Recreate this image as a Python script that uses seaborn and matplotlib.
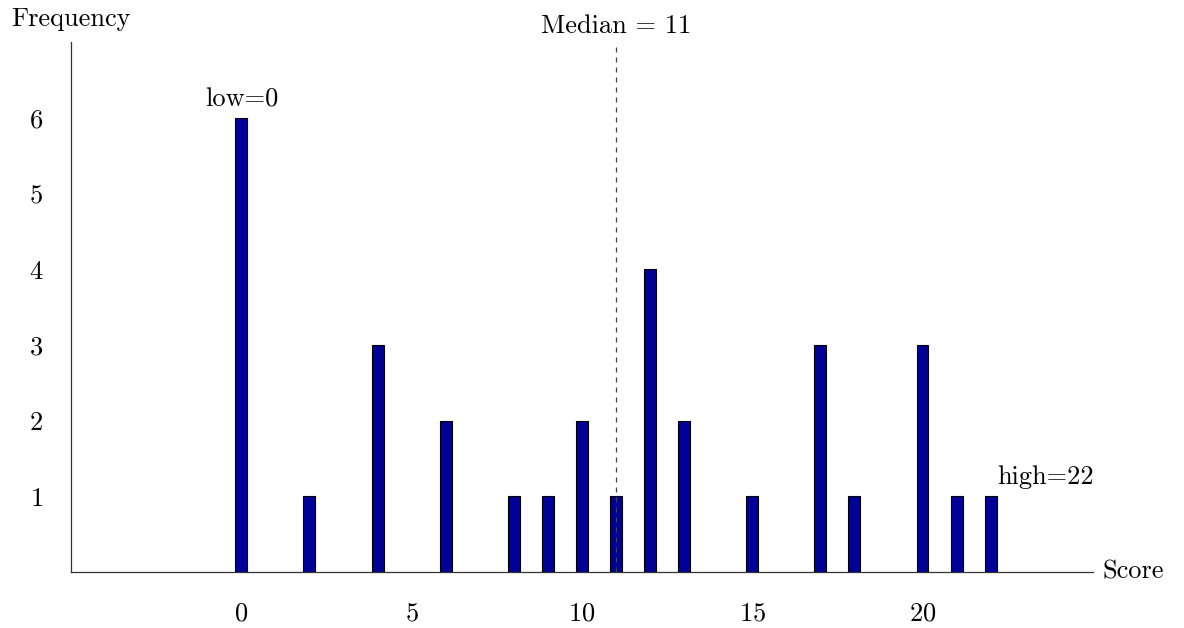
import matplotlib
matplotlib.use("Agg")
import matplotlib.pyplot as plt
import seaborn as sns
import pandas as pd

# score distribution
scores = [0, 2, 4, 6, 8, 9, 10, 11, 12, 13, 15, 17, 18, 20, 21, 22]
freqs = [6, 1, 3, 2, 1, 1, 2, 1, 4, 2, 1, 3, 1, 3, 1, 1]
x_ticks = [0, 5, 10, 15, 20]
y_ticks = [1, 2, 3, 4, 5, 6]
median_score = 11

sns.set_theme(style="white")
plt.rcParams['font.family'] = ['cmr10', 'DejaVu Serif']
plt.rcParams['axes.formatter.use_mathtext'] = True
plt.rcParams['text.color'] = 'black'
plt.rcParams['xtick.color'] = 'black'
plt.rcParams['ytick.color'] = 'black'

FS = 19

df = pd.DataFrame({'Score': scores, 'Frequency': freqs})

fig = plt.figure(figsize=(11.84, 6.28), dpi=100)
ax = fig.add_axes([0.06, 0.089, 0.863, 0.844])

sns.barplot(data=df, x='Score', y='Frequency', native_scale=True, width=0.35,
            color='#000099', saturation=1, edgecolor='black', linewidth=0.8, ax=ax)

ax.set_xlim(-5, 25)
ax.set_ylim(0, 7)
ax.set_xticks(x_ticks)
ax.set_yticks(y_ticks)
ax.tick_params(axis='both', length=0, labelsize=FS, labelcolor='black')
ax.tick_params(axis='x', pad=21)
ax.tick_params(axis='y', pad=20)

sns.despine(ax=ax)
for s in ['left', 'bottom']:
    ax.spines[s].set_color('#333333')
    ax.spines[s].set_linewidth(0.9)

ax.set_xlabel('')
ax.set_ylabel('')
ax.text(25.28, 0, 'Score', fontsize=FS, ha='left', va='center')
ax.text(-5, 7.14, 'Frequency', fontsize=FS, ha='center', va='bottom')

# median line
ax.plot([median_score, median_score], [0, 6.97], ls=(0, (4, 4)), color='#444444',
        lw=0.9, clip_on=False)
ax.text(median_score, 7.06, 'Median = 11', fontsize=FS, ha='center', va='bottom')

ax.text(0, 6.08, 'low=0', fontsize=FS, ha='center', va='bottom')
ax.text(22.2, 1.1, 'high=22', fontsize=FS, ha='left', va='bottom')

fig.savefig('out.png', dpi=100)
